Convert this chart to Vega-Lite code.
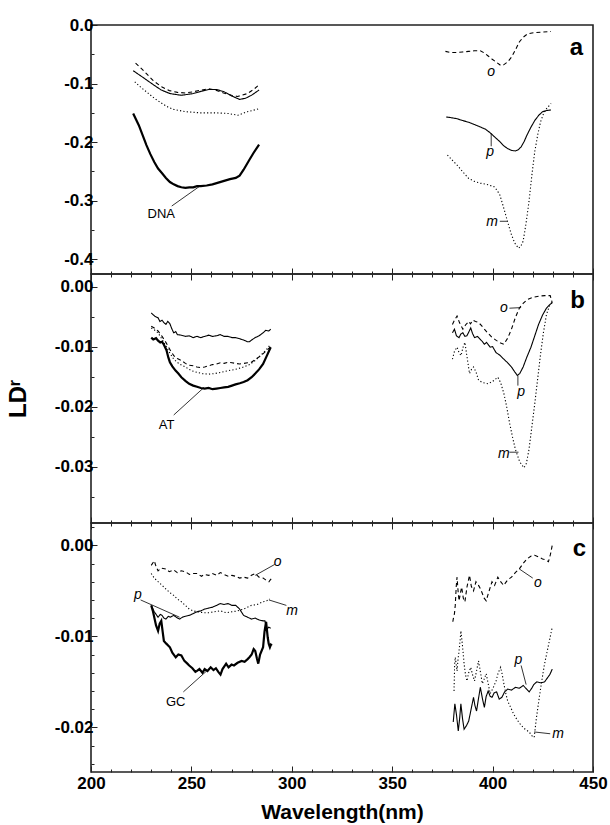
{
"$schema":"https://vega.github.io/schema/vega-lite/v6.json",
"padding":{"left":5,"top":15,"right":0,"bottom":0},
"config":{"font":"Liberation Sans","view":{"stroke":"#222","strokeWidth":1.6},"axis":{"tickColor":"#222","labelColor":"#000","titleColor":"#000"}},
"spacing":0,
"bounds":"flush",
"datasets":{
"curves":[
{"panel":"a","band":"UV","series":"p","nm":221,"LD":-0.078},{"panel":"a","band":"UV","series":"p","nm":225.7,"LD":-0.089},{"panel":"a","band":"UV","series":"p","nm":231.5,"LD":-0.103},{"panel":"a","band":"UV","series":"p","nm":235,"LD":-0.111},{"panel":"a","band":"UV","series":"p","nm":239.3,"LD":-0.117},{"panel":"a","band":"UV","series":"p","nm":245,"LD":-0.12},{"panel":"a","band":"UV","series":"p","nm":250.9,"LD":-0.117},{"panel":"a","band":"UV","series":"p","nm":255,"LD":-0.113},{"panel":"a","band":"UV","series":"p","nm":258.6,"LD":-0.11},{"panel":"a","band":"UV","series":"p","nm":262.5,"LD":-0.11},{"panel":"a","band":"UV","series":"p","nm":266.3,"LD":-0.114},{"panel":"a","band":"UV","series":"p","nm":270,"LD":-0.121},{"panel":"a","band":"UV","series":"p","nm":274,"LD":-0.127},{"panel":"a","band":"UV","series":"p","nm":277,"LD":-0.125},{"panel":"a","band":"UV","series":"p","nm":279.9,"LD":-0.12},{"panel":"a","band":"UV","series":"p","nm":283.7,"LD":-0.111},
{"panel":"a","band":"UV","series":"o","nm":222.2,"LD":-0.065},{"panel":"a","band":"UV","series":"o","nm":225,"LD":-0.074},{"panel":"a","band":"UV","series":"o","nm":227.6,"LD":-0.083},{"panel":"a","band":"UV","series":"o","nm":231,"LD":-0.095},{"panel":"a","band":"UV","series":"o","nm":235.4,"LD":-0.106},{"panel":"a","band":"UV","series":"o","nm":239,"LD":-0.112},{"panel":"a","band":"UV","series":"o","nm":243.1,"LD":-0.115},{"panel":"a","band":"UV","series":"o","nm":247,"LD":-0.116},{"panel":"a","band":"UV","series":"o","nm":250.9,"LD":-0.114},{"panel":"a","band":"UV","series":"o","nm":255,"LD":-0.111},{"panel":"a","band":"UV","series":"o","nm":258.6,"LD":-0.109},{"panel":"a","band":"UV","series":"o","nm":262,"LD":-0.111},{"panel":"a","band":"UV","series":"o","nm":266,"LD":-0.116},{"panel":"a","band":"UV","series":"o","nm":270,"LD":-0.12},{"panel":"a","band":"UV","series":"o","nm":273,"LD":-0.122},{"panel":"a","band":"UV","series":"o","nm":277.9,"LD":-0.117},{"panel":"a","band":"UV","series":"o","nm":281,"LD":-0.11},{"panel":"a","band":"UV","series":"o","nm":283.7,"LD":-0.102},
{"panel":"a","band":"UV","series":"m","nm":221.8,"LD":-0.097},{"panel":"a","band":"UV","series":"m","nm":224.7,"LD":-0.106},{"panel":"a","band":"UV","series":"m","nm":227.6,"LD":-0.114},{"panel":"a","band":"UV","series":"m","nm":231.5,"LD":-0.125},{"panel":"a","band":"UV","series":"m","nm":235.4,"LD":-0.134},{"panel":"a","band":"UV","series":"m","nm":238.3,"LD":-0.14},{"panel":"a","band":"UV","series":"m","nm":241.2,"LD":-0.144},{"panel":"a","band":"UV","series":"m","nm":247,"LD":-0.148},{"panel":"a","band":"UV","series":"m","nm":254.7,"LD":-0.15},{"panel":"a","band":"UV","series":"m","nm":262.5,"LD":-0.15},{"panel":"a","band":"UV","series":"m","nm":268.3,"LD":-0.151},{"panel":"a","band":"UV","series":"m","nm":273.1,"LD":-0.154},{"panel":"a","band":"UV","series":"m","nm":277.9,"LD":-0.148},{"panel":"a","band":"UV","series":"m","nm":283.7,"LD":-0.143},
{"panel":"a","band":"UV","series":"DNA","nm":221,"LD":-0.151},{"panel":"a","band":"UV","series":"DNA","nm":223.8,"LD":-0.171},{"panel":"a","band":"UV","series":"DNA","nm":225.7,"LD":-0.188},{"panel":"a","band":"UV","series":"DNA","nm":227.6,"LD":-0.205},{"panel":"a","band":"UV","series":"DNA","nm":229.5,"LD":-0.22},{"panel":"a","band":"UV","series":"DNA","nm":231.5,"LD":-0.234},{"panel":"a","band":"UV","series":"DNA","nm":233.4,"LD":-0.245},{"panel":"a","band":"UV","series":"DNA","nm":235.4,"LD":-0.253},{"panel":"a","band":"UV","series":"DNA","nm":237.3,"LD":-0.261},{"panel":"a","band":"UV","series":"DNA","nm":239.3,"LD":-0.268},{"panel":"a","band":"UV","series":"DNA","nm":241.2,"LD":-0.272},{"panel":"a","band":"UV","series":"DNA","nm":243.1,"LD":-0.275},{"panel":"a","band":"UV","series":"DNA","nm":245,"LD":-0.277},{"panel":"a","band":"UV","series":"DNA","nm":247,"LD":-0.278},{"panel":"a","band":"UV","series":"DNA","nm":249,"LD":-0.277},{"panel":"a","band":"UV","series":"DNA","nm":250.9,"LD":-0.277},{"panel":"a","band":"UV","series":"DNA","nm":252.8,"LD":-0.275},{"panel":"a","band":"UV","series":"DNA","nm":254.7,"LD":-0.275},{"panel":"a","band":"UV","series":"DNA","nm":257.6,"LD":-0.274},{"panel":"a","band":"UV","series":"DNA","nm":260.5,"LD":-0.272},{"panel":"a","band":"UV","series":"DNA","nm":263.4,"LD":-0.269},{"panel":"a","band":"UV","series":"DNA","nm":266.3,"LD":-0.266},{"panel":"a","band":"UV","series":"DNA","nm":269.2,"LD":-0.263},{"panel":"a","band":"UV","series":"DNA","nm":272.1,"LD":-0.261},{"panel":"a","band":"UV","series":"DNA","nm":274,"LD":-0.257},{"panel":"a","band":"UV","series":"DNA","nm":276,"LD":-0.247},{"panel":"a","band":"UV","series":"DNA","nm":278.9,"LD":-0.23},{"panel":"a","band":"UV","series":"DNA","nm":281,"LD":-0.218},{"panel":"a","band":"UV","series":"DNA","nm":283.7,"LD":-0.204},
{"panel":"a","band":"Vis","series":"o","nm":376.5,"LD":-0.045},{"panel":"a","band":"Vis","series":"o","nm":379,"LD":-0.047},{"panel":"a","band":"Vis","series":"o","nm":382.3,"LD":-0.047},{"panel":"a","band":"Vis","series":"o","nm":385,"LD":-0.046},{"panel":"a","band":"Vis","series":"o","nm":388.1,"LD":-0.045},{"panel":"a","band":"Vis","series":"o","nm":391,"LD":-0.044},{"panel":"a","band":"Vis","series":"o","nm":393.9,"LD":-0.044},{"panel":"a","band":"Vis","series":"o","nm":396,"LD":-0.048},{"panel":"a","band":"Vis","series":"o","nm":397.8,"LD":-0.053},{"panel":"a","band":"Vis","series":"o","nm":400,"LD":-0.059},{"panel":"a","band":"Vis","series":"o","nm":401.7,"LD":-0.063},{"panel":"a","band":"Vis","series":"o","nm":404,"LD":-0.069},{"panel":"a","band":"Vis","series":"o","nm":405.5,"LD":-0.068},{"panel":"a","band":"Vis","series":"o","nm":407.5,"LD":-0.063},{"panel":"a","band":"Vis","series":"o","nm":409.4,"LD":-0.055},{"panel":"a","band":"Vis","series":"o","nm":411.3,"LD":-0.043},{"panel":"a","band":"Vis","series":"o","nm":413.3,"LD":-0.029},{"panel":"a","band":"Vis","series":"o","nm":415.2,"LD":-0.021},{"panel":"a","band":"Vis","series":"o","nm":417.1,"LD":-0.016},{"panel":"a","band":"Vis","series":"o","nm":419,"LD":-0.014},{"panel":"a","band":"Vis","series":"o","nm":421,"LD":-0.013},{"panel":"a","band":"Vis","series":"o","nm":424.9,"LD":-0.012},{"panel":"a","band":"Vis","series":"o","nm":429.1,"LD":-0.011},
{"panel":"a","band":"Vis","series":"p","nm":376.9,"LD":-0.157},{"panel":"a","band":"Vis","series":"p","nm":379,"LD":-0.158},{"panel":"a","band":"Vis","series":"p","nm":382.3,"LD":-0.16},{"panel":"a","band":"Vis","series":"p","nm":385,"LD":-0.163},{"panel":"a","band":"Vis","series":"p","nm":388.1,"LD":-0.166},{"panel":"a","band":"Vis","series":"p","nm":391,"LD":-0.17},{"panel":"a","band":"Vis","series":"p","nm":393.9,"LD":-0.174},{"panel":"a","band":"Vis","series":"p","nm":396.5,"LD":-0.178},{"panel":"a","band":"Vis","series":"p","nm":398.8,"LD":-0.184},{"panel":"a","band":"Vis","series":"p","nm":401,"LD":-0.191},{"panel":"a","band":"Vis","series":"p","nm":403.6,"LD":-0.199},{"panel":"a","band":"Vis","series":"p","nm":405.5,"LD":-0.206},{"panel":"a","band":"Vis","series":"p","nm":407.5,"LD":-0.211},{"panel":"a","band":"Vis","series":"p","nm":409.4,"LD":-0.214},{"panel":"a","band":"Vis","series":"p","nm":411.3,"LD":-0.215},{"panel":"a","band":"Vis","series":"p","nm":412.8,"LD":-0.213},{"panel":"a","band":"Vis","series":"p","nm":414.2,"LD":-0.208},{"panel":"a","band":"Vis","series":"p","nm":415.7,"LD":-0.199},{"panel":"a","band":"Vis","series":"p","nm":417.1,"LD":-0.188},{"panel":"a","band":"Vis","series":"p","nm":419,"LD":-0.175},{"panel":"a","band":"Vis","series":"p","nm":421,"LD":-0.163},{"panel":"a","band":"Vis","series":"p","nm":423,"LD":-0.154},{"panel":"a","band":"Vis","series":"p","nm":424.9,"LD":-0.148},{"panel":"a","band":"Vis","series":"p","nm":427,"LD":-0.146},{"panel":"a","band":"Vis","series":"p","nm":429.1,"LD":-0.145},
{"panel":"a","band":"Vis","series":"m","nm":377.5,"LD":-0.222},{"panel":"a","band":"Vis","series":"m","nm":380,"LD":-0.231},{"panel":"a","band":"Vis","series":"m","nm":382.3,"LD":-0.239},{"panel":"a","band":"Vis","series":"m","nm":385,"LD":-0.25},{"panel":"a","band":"Vis","series":"m","nm":388.1,"LD":-0.262},{"panel":"a","band":"Vis","series":"m","nm":391,"LD":-0.267},{"panel":"a","band":"Vis","series":"m","nm":393.9,"LD":-0.27},{"panel":"a","band":"Vis","series":"m","nm":397,"LD":-0.272},{"panel":"a","band":"Vis","series":"m","nm":400.7,"LD":-0.276},{"panel":"a","band":"Vis","series":"m","nm":402.2,"LD":-0.282},{"panel":"a","band":"Vis","series":"m","nm":403.6,"LD":-0.29},{"panel":"a","band":"Vis","series":"m","nm":405,"LD":-0.306},{"panel":"a","band":"Vis","series":"m","nm":406.5,"LD":-0.324},{"panel":"a","band":"Vis","series":"m","nm":408,"LD":-0.342},{"panel":"a","band":"Vis","series":"m","nm":409.4,"LD":-0.358},{"panel":"a","band":"Vis","series":"m","nm":411,"LD":-0.372},{"panel":"a","band":"Vis","series":"m","nm":412.9,"LD":-0.381},{"panel":"a","band":"Vis","series":"m","nm":414,"LD":-0.378},{"panel":"a","band":"Vis","series":"m","nm":415.2,"LD":-0.369},{"panel":"a","band":"Vis","series":"m","nm":416.6,"LD":-0.34},{"panel":"a","band":"Vis","series":"m","nm":418.1,"LD":-0.302},{"panel":"a","band":"Vis","series":"m","nm":419.5,"LD":-0.258},{"panel":"a","band":"Vis","series":"m","nm":421,"LD":-0.216},{"panel":"a","band":"Vis","series":"m","nm":422.5,"LD":-0.187},{"panel":"a","band":"Vis","series":"m","nm":423.9,"LD":-0.165},{"panel":"a","band":"Vis","series":"m","nm":425.3,"LD":-0.152},{"panel":"a","band":"Vis","series":"m","nm":426.8,"LD":-0.143},{"panel":"a","band":"Vis","series":"m","nm":429.1,"LD":-0.134},

{"panel":"b","band":"UV","series":"p","nm":230,"LD":-0.0044},{"panel":"b","band":"UV","series":"p","nm":231,"LD":-0.0047},{"panel":"b","band":"UV","series":"p","nm":232,"LD":-0.005},{"panel":"b","band":"UV","series":"p","nm":233.4,"LD":-0.0052},{"panel":"b","band":"UV","series":"p","nm":234.3,"LD":-0.0058},{"panel":"b","band":"UV","series":"p","nm":235.4,"LD":-0.0056},{"panel":"b","band":"UV","series":"p","nm":236.3,"LD":-0.006},{"panel":"b","band":"UV","series":"p","nm":237.3,"LD":-0.0063},{"panel":"b","band":"UV","series":"p","nm":238.2,"LD":-0.0058},{"panel":"b","band":"UV","series":"p","nm":239.3,"LD":-0.0062},{"panel":"b","band":"UV","series":"p","nm":240.2,"LD":-0.007},{"panel":"b","band":"UV","series":"p","nm":241.2,"LD":-0.0077},{"panel":"b","band":"UV","series":"p","nm":242.2,"LD":-0.0075},{"panel":"b","band":"UV","series":"p","nm":243,"LD":-0.008},{"panel":"b","band":"UV","series":"p","nm":245,"LD":-0.0081},{"panel":"b","band":"UV","series":"p","nm":247,"LD":-0.0083},{"panel":"b","band":"UV","series":"p","nm":248.9,"LD":-0.0082},{"panel":"b","band":"UV","series":"p","nm":250.9,"LD":-0.0085},{"panel":"b","band":"UV","series":"p","nm":252.8,"LD":-0.0083},{"panel":"b","band":"UV","series":"p","nm":254.7,"LD":-0.0085},{"panel":"b","band":"UV","series":"p","nm":256.6,"LD":-0.0083},{"panel":"b","band":"UV","series":"p","nm":258.6,"LD":-0.0081},{"panel":"b","band":"UV","series":"p","nm":260.5,"LD":-0.0083},{"panel":"b","band":"UV","series":"p","nm":262.5,"LD":-0.0082},{"panel":"b","band":"UV","series":"p","nm":264.4,"LD":-0.008},{"panel":"b","band":"UV","series":"p","nm":266.3,"LD":-0.0083},{"panel":"b","band":"UV","series":"p","nm":268.3,"LD":-0.0083},{"panel":"b","band":"UV","series":"p","nm":270.2,"LD":-0.0085},{"panel":"b","band":"UV","series":"p","nm":272,"LD":-0.0085},{"panel":"b","band":"UV","series":"p","nm":274.1,"LD":-0.0087},{"panel":"b","band":"UV","series":"p","nm":276,"LD":-0.0089},{"panel":"b","band":"UV","series":"p","nm":278,"LD":-0.0092},{"panel":"b","band":"UV","series":"p","nm":278.9,"LD":-0.0092},{"panel":"b","band":"UV","series":"p","nm":280,"LD":-0.0089},{"panel":"b","band":"UV","series":"p","nm":281.8,"LD":-0.0085},{"panel":"b","band":"UV","series":"p","nm":283.7,"LD":-0.0082},{"panel":"b","band":"UV","series":"p","nm":285.7,"LD":-0.0077},{"panel":"b","band":"UV","series":"p","nm":287,"LD":-0.0073},{"panel":"b","band":"UV","series":"p","nm":288.5,"LD":-0.0074},{"panel":"b","band":"UV","series":"p","nm":289.5,"LD":-0.0071},
{"panel":"b","band":"UV","series":"AT","nm":230,"LD":-0.0085},{"panel":"b","band":"UV","series":"AT","nm":231,"LD":-0.0088},{"panel":"b","band":"UV","series":"AT","nm":232.4,"LD":-0.0086},{"panel":"b","band":"UV","series":"AT","nm":233.4,"LD":-0.009},{"panel":"b","band":"UV","series":"AT","nm":234.5,"LD":-0.0093},{"panel":"b","band":"UV","series":"AT","nm":235.4,"LD":-0.0092},{"panel":"b","band":"UV","series":"AT","nm":236.3,"LD":-0.0097},{"panel":"b","band":"UV","series":"AT","nm":237.6,"LD":-0.0106},{"panel":"b","band":"UV","series":"AT","nm":238.5,"LD":-0.0118},{"panel":"b","band":"UV","series":"AT","nm":239.3,"LD":-0.0126},{"panel":"b","band":"UV","series":"AT","nm":240.5,"LD":-0.0133},{"panel":"b","band":"UV","series":"AT","nm":242.1,"LD":-0.014},{"panel":"b","band":"UV","series":"AT","nm":243.5,"LD":-0.0145},{"panel":"b","band":"UV","series":"AT","nm":245,"LD":-0.0151},{"panel":"b","band":"UV","series":"AT","nm":247,"LD":-0.0157},{"panel":"b","band":"UV","series":"AT","nm":248.9,"LD":-0.0162},{"panel":"b","band":"UV","series":"AT","nm":250.9,"LD":-0.0165},{"panel":"b","band":"UV","series":"AT","nm":252.8,"LD":-0.0167},{"panel":"b","band":"UV","series":"AT","nm":254.7,"LD":-0.0169},{"panel":"b","band":"UV","series":"AT","nm":256.6,"LD":-0.017},{"panel":"b","band":"UV","series":"AT","nm":258.6,"LD":-0.0169},{"panel":"b","band":"UV","series":"AT","nm":260.5,"LD":-0.0171},{"panel":"b","band":"UV","series":"AT","nm":262.5,"LD":-0.017},{"panel":"b","band":"UV","series":"AT","nm":264.4,"LD":-0.0169},{"panel":"b","band":"UV","series":"AT","nm":266.3,"LD":-0.0168},{"panel":"b","band":"UV","series":"AT","nm":268.3,"LD":-0.0167},{"panel":"b","band":"UV","series":"AT","nm":270.2,"LD":-0.0165},{"panel":"b","band":"UV","series":"AT","nm":272,"LD":-0.0163},{"panel":"b","band":"UV","series":"AT","nm":274.1,"LD":-0.0161},{"panel":"b","band":"UV","series":"AT","nm":276,"LD":-0.0159},{"panel":"b","band":"UV","series":"AT","nm":278,"LD":-0.0156},{"panel":"b","band":"UV","series":"AT","nm":280,"LD":-0.0151},{"panel":"b","band":"UV","series":"AT","nm":281.8,"LD":-0.0145},{"panel":"b","band":"UV","series":"AT","nm":283.7,"LD":-0.0138},{"panel":"b","band":"UV","series":"AT","nm":285.7,"LD":-0.0129},{"panel":"b","band":"UV","series":"AT","nm":287.6,"LD":-0.0115},{"panel":"b","band":"UV","series":"AT","nm":289.5,"LD":-0.0101},
{"panel":"b","band":"UV","series":"o","nm":230,"LD":-0.0066},{"panel":"b","band":"UV","series":"o","nm":231.5,"LD":-0.0069},{"panel":"b","band":"UV","series":"o","nm":233.4,"LD":-0.0074},{"panel":"b","band":"UV","series":"o","nm":235.4,"LD":-0.0083},{"panel":"b","band":"UV","series":"o","nm":237.3,"LD":-0.0093},{"panel":"b","band":"UV","series":"o","nm":239.3,"LD":-0.0105},{"panel":"b","band":"UV","series":"o","nm":241.2,"LD":-0.0115},{"panel":"b","band":"UV","series":"o","nm":243,"LD":-0.012},{"panel":"b","band":"UV","series":"o","nm":245,"LD":-0.0123},{"panel":"b","band":"UV","series":"o","nm":247,"LD":-0.0128},{"panel":"b","band":"UV","series":"o","nm":248.9,"LD":-0.0131},{"panel":"b","band":"UV","series":"o","nm":250.9,"LD":-0.0132},{"panel":"b","band":"UV","series":"o","nm":252.8,"LD":-0.0134},{"panel":"b","band":"UV","series":"o","nm":254.7,"LD":-0.0135},{"panel":"b","band":"UV","series":"o","nm":256.6,"LD":-0.0134},{"panel":"b","band":"UV","series":"o","nm":258.6,"LD":-0.0132},{"panel":"b","band":"UV","series":"o","nm":260.5,"LD":-0.013},{"panel":"b","band":"UV","series":"o","nm":262.5,"LD":-0.0129},{"panel":"b","band":"UV","series":"o","nm":264.4,"LD":-0.0127},{"panel":"b","band":"UV","series":"o","nm":266.3,"LD":-0.0128},{"panel":"b","band":"UV","series":"o","nm":268.3,"LD":-0.0126},{"panel":"b","band":"UV","series":"o","nm":270.2,"LD":-0.0127},{"panel":"b","band":"UV","series":"o","nm":272,"LD":-0.0128},{"panel":"b","band":"UV","series":"o","nm":274.1,"LD":-0.0129},{"panel":"b","band":"UV","series":"o","nm":276,"LD":-0.0128},{"panel":"b","band":"UV","series":"o","nm":278,"LD":-0.0127},{"panel":"b","band":"UV","series":"o","nm":279.9,"LD":-0.0126},{"panel":"b","band":"UV","series":"o","nm":282,"LD":-0.0121},{"panel":"b","band":"UV","series":"o","nm":284.7,"LD":-0.0115},{"panel":"b","band":"UV","series":"o","nm":287,"LD":-0.0108},{"panel":"b","band":"UV","series":"o","nm":289.5,"LD":-0.01},
{"panel":"b","band":"UV","series":"m","nm":230,"LD":-0.0069},{"panel":"b","band":"UV","series":"m","nm":231.5,"LD":-0.0072},{"panel":"b","band":"UV","series":"m","nm":233.4,"LD":-0.0077},{"panel":"b","band":"UV","series":"m","nm":235.4,"LD":-0.0088},{"panel":"b","band":"UV","series":"m","nm":237.3,"LD":-0.0099},{"panel":"b","band":"UV","series":"m","nm":239.3,"LD":-0.0111},{"panel":"b","band":"UV","series":"m","nm":241.2,"LD":-0.0121},{"panel":"b","band":"UV","series":"m","nm":244,"LD":-0.0129},{"panel":"b","band":"UV","series":"m","nm":247,"LD":-0.0134},{"panel":"b","band":"UV","series":"m","nm":250,"LD":-0.014},{"panel":"b","band":"UV","series":"m","nm":252.8,"LD":-0.0143},{"panel":"b","band":"UV","series":"m","nm":255.5,"LD":-0.0145},{"panel":"b","band":"UV","series":"m","nm":258.6,"LD":-0.0146},{"panel":"b","band":"UV","series":"m","nm":261.5,"LD":-0.0145},{"panel":"b","band":"UV","series":"m","nm":264.4,"LD":-0.0143},{"panel":"b","band":"UV","series":"m","nm":267,"LD":-0.0141},{"panel":"b","band":"UV","series":"m","nm":270.2,"LD":-0.0139},{"panel":"b","band":"UV","series":"m","nm":273,"LD":-0.0137},{"panel":"b","band":"UV","series":"m","nm":276,"LD":-0.0134},{"panel":"b","band":"UV","series":"m","nm":279,"LD":-0.013},{"panel":"b","band":"UV","series":"m","nm":281.8,"LD":-0.0123},{"panel":"b","band":"UV","series":"m","nm":284.7,"LD":-0.0114},{"panel":"b","band":"UV","series":"m","nm":287.6,"LD":-0.0104},{"panel":"b","band":"UV","series":"m","nm":289.5,"LD":-0.0096},
{"panel":"b","band":"Vis","series":"o","nm":380,"LD":-0.0063},{"panel":"b","band":"Vis","series":"o","nm":381,"LD":-0.0056},{"panel":"b","band":"Vis","series":"o","nm":382.3,"LD":-0.0049},{"panel":"b","band":"Vis","series":"o","nm":383.5,"LD":-0.006},{"panel":"b","band":"Vis","series":"o","nm":385.2,"LD":-0.0071},{"panel":"b","band":"Vis","series":"o","nm":386.5,"LD":-0.0064},{"panel":"b","band":"Vis","series":"o","nm":388.1,"LD":-0.0058},{"panel":"b","band":"Vis","series":"o","nm":389,"LD":-0.0062},{"panel":"b","band":"Vis","series":"o","nm":390.1,"LD":-0.0056},{"panel":"b","band":"Vis","series":"o","nm":391.5,"LD":-0.0058},{"panel":"b","band":"Vis","series":"o","nm":393,"LD":-0.006},{"panel":"b","band":"Vis","series":"o","nm":394.5,"LD":-0.0065},{"panel":"b","band":"Vis","series":"o","nm":395.9,"LD":-0.0071},{"panel":"b","band":"Vis","series":"o","nm":397.8,"LD":-0.0078},{"panel":"b","band":"Vis","series":"o","nm":399.8,"LD":-0.0085},{"panel":"b","band":"Vis","series":"o","nm":402,"LD":-0.009},{"panel":"b","band":"Vis","series":"o","nm":404,"LD":-0.0094},{"panel":"b","band":"Vis","series":"o","nm":405.6,"LD":-0.0096},{"panel":"b","band":"Vis","series":"o","nm":407.5,"LD":-0.0086},{"panel":"b","band":"Vis","series":"o","nm":409.4,"LD":-0.0071},{"panel":"b","band":"Vis","series":"o","nm":411.3,"LD":-0.0052},{"panel":"b","band":"Vis","series":"o","nm":413.3,"LD":-0.0036},{"panel":"b","band":"Vis","series":"o","nm":415.2,"LD":-0.0028},{"panel":"b","band":"Vis","series":"o","nm":417.1,"LD":-0.0022},{"panel":"b","band":"Vis","series":"o","nm":420,"LD":-0.0018},{"panel":"b","band":"Vis","series":"o","nm":422.9,"LD":-0.0016},{"panel":"b","band":"Vis","series":"o","nm":426,"LD":-0.0015},{"panel":"b","band":"Vis","series":"o","nm":428.7,"LD":-0.0015},{"panel":"b","band":"Vis","series":"o","nm":429.7,"LD":-0.0027},
{"panel":"b","band":"Vis","series":"p","nm":380,"LD":-0.0077},{"panel":"b","band":"Vis","series":"p","nm":381,"LD":-0.0071},{"panel":"b","band":"Vis","series":"p","nm":382,"LD":-0.0082},{"panel":"b","band":"Vis","series":"p","nm":383.3,"LD":-0.0085},{"panel":"b","band":"Vis","series":"p","nm":384.2,"LD":-0.0079},{"panel":"b","band":"Vis","series":"p","nm":385.2,"LD":-0.0077},{"panel":"b","band":"Vis","series":"p","nm":386.2,"LD":-0.0083},{"panel":"b","band":"Vis","series":"p","nm":387.2,"LD":-0.0082},{"panel":"b","band":"Vis","series":"p","nm":388.1,"LD":-0.0076},{"panel":"b","band":"Vis","series":"p","nm":389.1,"LD":-0.0069},{"panel":"b","band":"Vis","series":"p","nm":390,"LD":-0.0078},{"panel":"b","band":"Vis","series":"p","nm":391,"LD":-0.0085},{"panel":"b","band":"Vis","series":"p","nm":392.5,"LD":-0.0083},{"panel":"b","band":"Vis","series":"p","nm":393.9,"LD":-0.0088},{"panel":"b","band":"Vis","series":"p","nm":395,"LD":-0.0092},{"panel":"b","band":"Vis","series":"p","nm":395.9,"LD":-0.0096},{"panel":"b","band":"Vis","series":"p","nm":397,"LD":-0.0093},{"panel":"b","band":"Vis","series":"p","nm":398.8,"LD":-0.0101},{"panel":"b","band":"Vis","series":"p","nm":400,"LD":-0.01},{"panel":"b","band":"Vis","series":"p","nm":401.7,"LD":-0.011},{"panel":"b","band":"Vis","series":"p","nm":403.5,"LD":-0.0114},{"panel":"b","band":"Vis","series":"p","nm":405.6,"LD":-0.0121},{"panel":"b","band":"Vis","series":"p","nm":407.5,"LD":-0.0127},{"panel":"b","band":"Vis","series":"p","nm":409.4,"LD":-0.0134},{"panel":"b","band":"Vis","series":"p","nm":411,"LD":-0.0142},{"panel":"b","band":"Vis","series":"p","nm":412.3,"LD":-0.0148},{"panel":"b","band":"Vis","series":"p","nm":413.5,"LD":-0.0145},{"panel":"b","band":"Vis","series":"p","nm":415.2,"LD":-0.0134},{"panel":"b","band":"Vis","series":"p","nm":417,"LD":-0.0118},{"panel":"b","band":"Vis","series":"p","nm":419.1,"LD":-0.0101},{"panel":"b","band":"Vis","series":"p","nm":421,"LD":-0.0082},{"panel":"b","band":"Vis","series":"p","nm":422.9,"LD":-0.0063},{"panel":"b","band":"Vis","series":"p","nm":424.8,"LD":-0.0048},{"panel":"b","band":"Vis","series":"p","nm":426.8,"LD":-0.0036},{"panel":"b","band":"Vis","series":"p","nm":428.5,"LD":-0.003},{"panel":"b","band":"Vis","series":"p","nm":429.7,"LD":-0.0027},
{"panel":"b","band":"Vis","series":"m","nm":380,"LD":-0.0121},{"panel":"b","band":"Vis","series":"m","nm":381,"LD":-0.0108},{"panel":"b","band":"Vis","series":"m","nm":382.3,"LD":-0.0101},{"panel":"b","band":"Vis","series":"m","nm":383.3,"LD":-0.011},{"panel":"b","band":"Vis","series":"m","nm":384.3,"LD":-0.0115},{"panel":"b","band":"Vis","series":"m","nm":385.2,"LD":-0.0102},{"panel":"b","band":"Vis","series":"m","nm":386.2,"LD":-0.0093},{"panel":"b","band":"Vis","series":"m","nm":387.3,"LD":-0.0118},{"panel":"b","band":"Vis","series":"m","nm":388.5,"LD":-0.0145},{"panel":"b","band":"Vis","series":"m","nm":389.5,"LD":-0.0138},{"panel":"b","band":"Vis","series":"m","nm":390.5,"LD":-0.0134},{"panel":"b","band":"Vis","series":"m","nm":391.7,"LD":-0.0142},{"panel":"b","band":"Vis","series":"m","nm":393,"LD":-0.0156},{"panel":"b","band":"Vis","series":"m","nm":395,"LD":-0.016},{"panel":"b","band":"Vis","series":"m","nm":397.8,"LD":-0.0162},{"panel":"b","band":"Vis","series":"m","nm":400,"LD":-0.0158},{"panel":"b","band":"Vis","series":"m","nm":402.6,"LD":-0.0151},{"panel":"b","band":"Vis","series":"m","nm":404,"LD":-0.016},{"panel":"b","band":"Vis","series":"m","nm":405.6,"LD":-0.0178},{"panel":"b","band":"Vis","series":"m","nm":407,"LD":-0.02},{"panel":"b","band":"Vis","series":"m","nm":408.5,"LD":-0.0228},{"panel":"b","band":"Vis","series":"m","nm":410,"LD":-0.0252},{"panel":"b","band":"Vis","series":"m","nm":411.4,"LD":-0.0272},{"panel":"b","band":"Vis","series":"m","nm":413.5,"LD":-0.0292},{"panel":"b","band":"Vis","series":"m","nm":415.6,"LD":-0.0302},{"panel":"b","band":"Vis","series":"m","nm":416.8,"LD":-0.0295},{"panel":"b","band":"Vis","series":"m","nm":418.1,"LD":-0.0272},{"panel":"b","band":"Vis","series":"m","nm":419.5,"LD":-0.0235},{"panel":"b","band":"Vis","series":"m","nm":421,"LD":-0.0195},{"panel":"b","band":"Vis","series":"m","nm":422.5,"LD":-0.0152},{"panel":"b","band":"Vis","series":"m","nm":423.9,"LD":-0.0112},{"panel":"b","band":"Vis","series":"m","nm":425.3,"LD":-0.0077},{"panel":"b","band":"Vis","series":"m","nm":426.8,"LD":-0.0047},{"panel":"b","band":"Vis","series":"m","nm":428.2,"LD":-0.0033},{"panel":"b","band":"Vis","series":"m","nm":429.7,"LD":-0.0025},

{"panel":"c","band":"UV","series":"o","nm":230,"LD":-0.0022},{"panel":"c","band":"UV","series":"o","nm":231.5,"LD":-0.0017},{"panel":"c","band":"UV","series":"o","nm":232.5,"LD":-0.0024},{"panel":"c","band":"UV","series":"o","nm":233.4,"LD":-0.0028},{"panel":"c","band":"UV","series":"o","nm":235,"LD":-0.0025},{"panel":"c","band":"UV","series":"o","nm":237.3,"LD":-0.0026},{"panel":"c","band":"UV","series":"o","nm":239,"LD":-0.0029},{"panel":"c","band":"UV","series":"o","nm":241.2,"LD":-0.0027},{"panel":"c","band":"UV","series":"o","nm":243,"LD":-0.003},{"panel":"c","band":"UV","series":"o","nm":245,"LD":-0.0028},{"panel":"c","band":"UV","series":"o","nm":247,"LD":-0.0029},{"panel":"c","band":"UV","series":"o","nm":249,"LD":-0.0032},{"panel":"c","band":"UV","series":"o","nm":250.9,"LD":-0.0031},{"panel":"c","band":"UV","series":"o","nm":252.8,"LD":-0.0031},{"panel":"c","band":"UV","series":"o","nm":255,"LD":-0.0034},{"panel":"c","band":"UV","series":"o","nm":256.6,"LD":-0.0032},{"panel":"c","band":"UV","series":"o","nm":258.6,"LD":-0.0033},{"panel":"c","band":"UV","series":"o","nm":260.5,"LD":-0.0031},{"panel":"c","band":"UV","series":"o","nm":262.5,"LD":-0.0033},{"panel":"c","band":"UV","series":"o","nm":264.4,"LD":-0.003},{"panel":"c","band":"UV","series":"o","nm":266.3,"LD":-0.0032},{"panel":"c","band":"UV","series":"o","nm":268.3,"LD":-0.0034},{"panel":"c","band":"UV","series":"o","nm":270.2,"LD":-0.0033},{"panel":"c","band":"UV","series":"o","nm":272,"LD":-0.0034},{"panel":"c","band":"UV","series":"o","nm":274,"LD":-0.0036},{"panel":"c","band":"UV","series":"o","nm":276,"LD":-0.0035},{"panel":"c","band":"UV","series":"o","nm":278,"LD":-0.0036},{"panel":"c","band":"UV","series":"o","nm":279.9,"LD":-0.0033},{"panel":"c","band":"UV","series":"o","nm":281.8,"LD":-0.0031},{"panel":"c","band":"UV","series":"o","nm":283.7,"LD":-0.0035},{"panel":"c","band":"UV","series":"o","nm":285.7,"LD":-0.0036},{"panel":"c","band":"UV","series":"o","nm":287,"LD":-0.0038},{"panel":"c","band":"UV","series":"o","nm":288.6,"LD":-0.004},{"panel":"c","band":"UV","series":"o","nm":289.3,"LD":-0.0038},{"panel":"c","band":"UV","series":"o","nm":290.1,"LD":-0.0036},
{"panel":"c","band":"UV","series":"m","nm":230,"LD":-0.0031},{"panel":"c","band":"UV","series":"m","nm":231.5,"LD":-0.0036},{"panel":"c","band":"UV","series":"m","nm":233.4,"LD":-0.004},{"panel":"c","band":"UV","series":"m","nm":235.4,"LD":-0.0044},{"panel":"c","band":"UV","series":"m","nm":237.3,"LD":-0.0048},{"panel":"c","band":"UV","series":"m","nm":239.3,"LD":-0.0052},{"panel":"c","band":"UV","series":"m","nm":241.2,"LD":-0.0055},{"panel":"c","band":"UV","series":"m","nm":243,"LD":-0.0059},{"panel":"c","band":"UV","series":"m","nm":245,"LD":-0.0062},{"panel":"c","band":"UV","series":"m","nm":247,"LD":-0.0066},{"panel":"c","band":"UV","series":"m","nm":248.9,"LD":-0.007},{"panel":"c","band":"UV","series":"m","nm":250.9,"LD":-0.0072},{"panel":"c","band":"UV","series":"m","nm":252.8,"LD":-0.0073},{"panel":"c","band":"UV","series":"m","nm":255.7,"LD":-0.0074},{"panel":"c","band":"UV","series":"m","nm":258.6,"LD":-0.0074},{"panel":"c","band":"UV","series":"m","nm":261.5,"LD":-0.0073},{"panel":"c","band":"UV","series":"m","nm":264.4,"LD":-0.0072},{"panel":"c","band":"UV","series":"m","nm":267.3,"LD":-0.0074},{"panel":"c","band":"UV","series":"m","nm":270.2,"LD":-0.0073},{"panel":"c","band":"UV","series":"m","nm":273,"LD":-0.0072},{"panel":"c","band":"UV","series":"m","nm":276,"LD":-0.007},{"panel":"c","band":"UV","series":"m","nm":279.9,"LD":-0.0066},{"panel":"c","band":"UV","series":"m","nm":282.8,"LD":-0.0065},{"panel":"c","band":"UV","series":"m","nm":285.7,"LD":-0.0062},{"panel":"c","band":"UV","series":"m","nm":287.5,"LD":-0.0061},{"panel":"c","band":"UV","series":"m","nm":289.1,"LD":-0.0059},
{"panel":"c","band":"UV","series":"p","nm":230,"LD":-0.0066},{"panel":"c","band":"UV","series":"p","nm":231.5,"LD":-0.0073},{"panel":"c","band":"UV","series":"p","nm":233.4,"LD":-0.0079},{"panel":"c","band":"UV","series":"p","nm":234.5,"LD":-0.0076},{"panel":"c","band":"UV","series":"p","nm":235.4,"LD":-0.0077},{"panel":"c","band":"UV","series":"p","nm":236.3,"LD":-0.008},{"panel":"c","band":"UV","series":"p","nm":237.3,"LD":-0.0081},{"panel":"c","band":"UV","series":"p","nm":238.5,"LD":-0.0078},{"panel":"c","band":"UV","series":"p","nm":239.5,"LD":-0.0079},{"panel":"c","band":"UV","series":"p","nm":241.2,"LD":-0.0077},{"panel":"c","band":"UV","series":"p","nm":242.5,"LD":-0.0079},{"panel":"c","band":"UV","series":"p","nm":244.1,"LD":-0.0081},{"panel":"c","band":"UV","series":"p","nm":245.5,"LD":-0.0079},{"panel":"c","band":"UV","series":"p","nm":247,"LD":-0.0078},{"panel":"c","band":"UV","series":"p","nm":248.9,"LD":-0.0077},{"panel":"c","band":"UV","series":"p","nm":250.9,"LD":-0.0075},{"panel":"c","band":"UV","series":"p","nm":252.8,"LD":-0.0073},{"panel":"c","band":"UV","series":"p","nm":254.7,"LD":-0.0072},{"panel":"c","band":"UV","series":"p","nm":256.6,"LD":-0.007},{"panel":"c","band":"UV","series":"p","nm":258.6,"LD":-0.0069},{"panel":"c","band":"UV","series":"p","nm":260.5,"LD":-0.0068},{"panel":"c","band":"UV","series":"p","nm":262.5,"LD":-0.0066},{"panel":"c","band":"UV","series":"p","nm":264.4,"LD":-0.0064},{"panel":"c","band":"UV","series":"p","nm":266.3,"LD":-0.0065},{"panel":"c","band":"UV","series":"p","nm":268.3,"LD":-0.0064},{"panel":"c","band":"UV","series":"p","nm":270.2,"LD":-0.0066},{"panel":"c","band":"UV","series":"p","nm":272.1,"LD":-0.0066},{"panel":"c","band":"UV","series":"p","nm":274,"LD":-0.007},{"panel":"c","band":"UV","series":"p","nm":276,"LD":-0.0077},{"panel":"c","band":"UV","series":"p","nm":278,"LD":-0.0079},{"panel":"c","band":"UV","series":"p","nm":279.9,"LD":-0.0081},{"panel":"c","band":"UV","series":"p","nm":281.8,"LD":-0.008},{"panel":"c","band":"UV","series":"p","nm":283.7,"LD":-0.0082},{"panel":"c","band":"UV","series":"p","nm":285.7,"LD":-0.0083},{"panel":"c","band":"UV","series":"p","nm":286.6,"LD":-0.0083},{"panel":"c","band":"UV","series":"p","nm":287.6,"LD":-0.0092},{"panel":"c","band":"UV","series":"p","nm":288.5,"LD":-0.009},{"panel":"c","band":"UV","series":"p","nm":289.5,"LD":-0.0091},
{"panel":"c","band":"UV","series":"GC","nm":230,"LD":-0.0066},{"panel":"c","band":"UV","series":"GC","nm":230.8,"LD":-0.0072},{"panel":"c","band":"UV","series":"GC","nm":231.5,"LD":-0.0079},{"panel":"c","band":"UV","series":"GC","nm":232.4,"LD":-0.0088},{"panel":"c","band":"UV","series":"GC","nm":233.4,"LD":-0.0094},{"panel":"c","band":"UV","series":"GC","nm":234.2,"LD":-0.0086},{"panel":"c","band":"UV","series":"GC","nm":235,"LD":-0.0083},{"panel":"c","band":"UV","series":"GC","nm":235.7,"LD":-0.0095},{"panel":"c","band":"UV","series":"GC","nm":236.3,"LD":-0.0105},{"panel":"c","band":"UV","series":"GC","nm":237.5,"LD":-0.0108},{"panel":"c","band":"UV","series":"GC","nm":239.3,"LD":-0.0112},{"panel":"c","band":"UV","series":"GC","nm":240.5,"LD":-0.0118},{"panel":"c","band":"UV","series":"GC","nm":242.2,"LD":-0.0123},{"panel":"c","band":"UV","series":"GC","nm":243.5,"LD":-0.012},{"panel":"c","band":"UV","series":"GC","nm":245,"LD":-0.0121},{"panel":"c","band":"UV","series":"GC","nm":246.5,"LD":-0.0127},{"panel":"c","band":"UV","series":"GC","nm":248,"LD":-0.013},{"panel":"c","band":"UV","series":"GC","nm":248.9,"LD":-0.0132},{"panel":"c","band":"UV","series":"GC","nm":250.5,"LD":-0.0135},{"panel":"c","band":"UV","series":"GC","nm":252,"LD":-0.0139},{"panel":"c","band":"UV","series":"GC","nm":252.8,"LD":-0.0138},{"panel":"c","band":"UV","series":"GC","nm":254,"LD":-0.0136},{"panel":"c","band":"UV","series":"GC","nm":255.5,"LD":-0.014},{"panel":"c","band":"UV","series":"GC","nm":256.6,"LD":-0.0136},{"panel":"c","band":"UV","series":"GC","nm":258,"LD":-0.0138},{"panel":"c","band":"UV","series":"GC","nm":259.6,"LD":-0.0134},{"panel":"c","band":"UV","series":"GC","nm":261,"LD":-0.0137},{"panel":"c","band":"UV","series":"GC","nm":262.2,"LD":-0.0135},{"panel":"c","band":"UV","series":"GC","nm":263.4,"LD":-0.0139},{"panel":"c","band":"UV","series":"GC","nm":264.5,"LD":-0.0142},{"panel":"c","band":"UV","series":"GC","nm":265.5,"LD":-0.0136},{"panel":"c","band":"UV","series":"GC","nm":267.3,"LD":-0.013},{"panel":"c","band":"UV","series":"GC","nm":268.5,"LD":-0.0134},{"panel":"c","band":"UV","series":"GC","nm":270,"LD":-0.0131},{"panel":"c","band":"UV","series":"GC","nm":271.2,"LD":-0.0132},{"panel":"c","band":"UV","series":"GC","nm":273,"LD":-0.0129},{"panel":"c","band":"UV","series":"GC","nm":275,"LD":-0.0127},{"panel":"c","band":"UV","series":"GC","nm":276.5,"LD":-0.0128},{"panel":"c","band":"UV","series":"GC","nm":278,"LD":-0.0125},{"panel":"c","band":"UV","series":"GC","nm":278.9,"LD":-0.0123},{"panel":"c","band":"UV","series":"GC","nm":280,"LD":-0.012},{"panel":"c","band":"UV","series":"GC","nm":281,"LD":-0.0114},{"panel":"c","band":"UV","series":"GC","nm":281.8,"LD":-0.0116},{"panel":"c","band":"UV","series":"GC","nm":282.6,"LD":-0.0124},{"panel":"c","band":"UV","series":"GC","nm":283.3,"LD":-0.013},{"panel":"c","band":"UV","series":"GC","nm":284.2,"LD":-0.012},{"panel":"c","band":"UV","series":"GC","nm":285.7,"LD":-0.0112},{"panel":"c","band":"UV","series":"GC","nm":286.4,"LD":-0.0095},{"panel":"c","band":"UV","series":"GC","nm":287.2,"LD":-0.0084},{"panel":"c","band":"UV","series":"GC","nm":288,"LD":-0.0101},{"panel":"c","band":"UV","series":"GC","nm":288.5,"LD":-0.0108},{"panel":"c","band":"UV","series":"GC","nm":289.1,"LD":-0.0112},{"panel":"c","band":"UV","series":"GC","nm":289.6,"LD":-0.0109},{"panel":"c","band":"UV","series":"GC","nm":290.1,"LD":-0.011},
{"panel":"c","band":"Vis","series":"o","nm":380.2,"LD":-0.0084},{"panel":"c","band":"Vis","series":"o","nm":380.4,"LD":-0.0081},{"panel":"c","band":"Vis","series":"o","nm":381,"LD":-0.0075},{"panel":"c","band":"Vis","series":"o","nm":381.4,"LD":-0.0066},{"panel":"c","band":"Vis","series":"o","nm":381.9,"LD":-0.0045},{"panel":"c","band":"Vis","series":"o","nm":382.3,"LD":-0.0035},{"panel":"c","band":"Vis","series":"o","nm":382.8,"LD":-0.005},{"panel":"c","band":"Vis","series":"o","nm":383.3,"LD":-0.0061},{"panel":"c","band":"Vis","series":"o","nm":384,"LD":-0.0052},{"panel":"c","band":"Vis","series":"o","nm":384.6,"LD":-0.0046},{"panel":"c","band":"Vis","series":"o","nm":385.4,"LD":-0.0058},{"panel":"c","band":"Vis","series":"o","nm":386.2,"LD":-0.0062},{"panel":"c","band":"Vis","series":"o","nm":387.3,"LD":-0.0045},{"panel":"c","band":"Vis","series":"o","nm":388.5,"LD":-0.0033},{"panel":"c","band":"Vis","series":"o","nm":389.4,"LD":-0.0045},{"panel":"c","band":"Vis","series":"o","nm":390.5,"LD":-0.005},{"panel":"c","band":"Vis","series":"o","nm":391.7,"LD":-0.004},{"panel":"c","band":"Vis","series":"o","nm":393,"LD":-0.0044},{"panel":"c","band":"Vis","series":"o","nm":394,"LD":-0.0048},{"panel":"c","band":"Vis","series":"o","nm":394.9,"LD":-0.0053},{"panel":"c","band":"Vis","series":"o","nm":395.8,"LD":-0.0058},{"panel":"c","band":"Vis","series":"o","nm":396.8,"LD":-0.0061},{"panel":"c","band":"Vis","series":"o","nm":398,"LD":-0.0052},{"panel":"c","band":"Vis","series":"o","nm":399.7,"LD":-0.004},{"panel":"c","band":"Vis","series":"o","nm":401,"LD":-0.0044},{"panel":"c","band":"Vis","series":"o","nm":402.6,"LD":-0.0035},{"panel":"c","band":"Vis","series":"o","nm":404,"LD":-0.004},{"panel":"c","band":"Vis","series":"o","nm":405.5,"LD":-0.0044},{"panel":"c","band":"Vis","series":"o","nm":407.5,"LD":-0.0038},{"panel":"c","band":"Vis","series":"o","nm":409.4,"LD":-0.0035},{"panel":"c","band":"Vis","series":"o","nm":411.3,"LD":-0.003},{"panel":"c","band":"Vis","series":"o","nm":413.3,"LD":-0.0026},{"panel":"c","band":"Vis","series":"o","nm":415.2,"LD":-0.002},{"panel":"c","band":"Vis","series":"o","nm":417.1,"LD":-0.0015},{"panel":"c","band":"Vis","series":"o","nm":419,"LD":-0.0012},{"panel":"c","band":"Vis","series":"o","nm":421,"LD":-0.0011},{"panel":"c","band":"Vis","series":"o","nm":423,"LD":-0.0013},{"panel":"c","band":"Vis","series":"o","nm":424.9,"LD":-0.0015},{"panel":"c","band":"Vis","series":"o","nm":426.5,"LD":-0.0016},{"panel":"c","band":"Vis","series":"o","nm":427.8,"LD":-0.0018},{"panel":"c","band":"Vis","series":"o","nm":428.8,"LD":-0.001},{"panel":"c","band":"Vis","series":"o","nm":429.7,"LD":0},
{"panel":"c","band":"Vis","series":"p","nm":380.4,"LD":-0.0194},{"panel":"c","band":"Vis","series":"p","nm":381.2,"LD":-0.0174},{"panel":"c","band":"Vis","series":"p","nm":382,"LD":-0.0186},{"panel":"c","band":"Vis","series":"p","nm":382.9,"LD":-0.0204},{"panel":"c","band":"Vis","series":"p","nm":383.6,"LD":-0.019},{"panel":"c","band":"Vis","series":"p","nm":384.2,"LD":-0.0174},{"panel":"c","band":"Vis","series":"p","nm":385,"LD":-0.019},{"panel":"c","band":"Vis","series":"p","nm":385.8,"LD":-0.0202},{"panel":"c","band":"Vis","series":"p","nm":387,"LD":-0.0198},{"panel":"c","band":"Vis","series":"p","nm":388.1,"LD":-0.0193},{"panel":"c","band":"Vis","series":"p","nm":389.3,"LD":-0.018},{"panel":"c","band":"Vis","series":"p","nm":390.5,"LD":-0.0167},{"panel":"c","band":"Vis","series":"p","nm":391.2,"LD":-0.0176},{"panel":"c","band":"Vis","series":"p","nm":392,"LD":-0.0182},{"panel":"c","band":"Vis","series":"p","nm":393,"LD":-0.0168},{"panel":"c","band":"Vis","series":"p","nm":393.9,"LD":-0.0156},{"panel":"c","band":"Vis","series":"p","nm":394.9,"LD":-0.0168},{"panel":"c","band":"Vis","series":"p","nm":395.9,"LD":-0.0178},{"panel":"c","band":"Vis","series":"p","nm":396.8,"LD":-0.0166},{"panel":"c","band":"Vis","series":"p","nm":397.8,"LD":-0.016},{"panel":"c","band":"Vis","series":"p","nm":398.8,"LD":-0.0166},{"panel":"c","band":"Vis","series":"p","nm":399.7,"LD":-0.0167},{"panel":"c","band":"Vis","series":"p","nm":400.8,"LD":-0.0162},{"panel":"c","band":"Vis","series":"p","nm":402,"LD":-0.0161},{"panel":"c","band":"Vis","series":"p","nm":403.3,"LD":-0.0169},{"panel":"c","band":"Vis","series":"p","nm":404.6,"LD":-0.0167},{"panel":"c","band":"Vis","series":"p","nm":406,"LD":-0.0161},{"panel":"c","band":"Vis","series":"p","nm":407.5,"LD":-0.0158},{"panel":"c","band":"Vis","series":"p","nm":409.4,"LD":-0.0159},{"panel":"c","band":"Vis","series":"p","nm":411.4,"LD":-0.0156},{"panel":"c","band":"Vis","series":"p","nm":413.3,"LD":-0.0157},{"panel":"c","band":"Vis","series":"p","nm":415.3,"LD":-0.0154},{"panel":"c","band":"Vis","series":"p","nm":416.5,"LD":-0.0157},{"panel":"c","band":"Vis","series":"p","nm":418.2,"LD":-0.0161},{"panel":"c","band":"Vis","series":"p","nm":419.5,"LD":-0.0157},{"panel":"c","band":"Vis","series":"p","nm":420.5,"LD":-0.0153},{"panel":"c","band":"Vis","series":"p","nm":422,"LD":-0.015},{"panel":"c","band":"Vis","series":"p","nm":424,"LD":-0.0151},{"panel":"c","band":"Vis","series":"p","nm":425.9,"LD":-0.015},{"panel":"c","band":"Vis","series":"p","nm":427.5,"LD":-0.0145},{"panel":"c","band":"Vis","series":"p","nm":428.5,"LD":-0.0142},{"panel":"c","band":"Vis","series":"p","nm":429.7,"LD":-0.0136},
{"panel":"c","band":"Vis","series":"m","nm":380.8,"LD":-0.016},{"panel":"c","band":"Vis","series":"m","nm":381.1,"LD":-0.013},{"panel":"c","band":"Vis","series":"m","nm":381.4,"LD":-0.0123},{"panel":"c","band":"Vis","series":"m","nm":382.3,"LD":-0.0138},{"panel":"c","band":"Vis","series":"m","nm":382.8,"LD":-0.0125},{"panel":"c","band":"Vis","series":"m","nm":383.3,"LD":-0.0116},{"panel":"c","band":"Vis","series":"m","nm":383.8,"LD":-0.0105},{"panel":"c","band":"Vis","series":"m","nm":384.2,"LD":-0.0094},{"panel":"c","band":"Vis","series":"m","nm":385,"LD":-0.011},{"panel":"c","band":"Vis","series":"m","nm":385.8,"LD":-0.013},{"panel":"c","band":"Vis","series":"m","nm":386.5,"LD":-0.0142},{"panel":"c","band":"Vis","series":"m","nm":387.2,"LD":-0.0149},{"panel":"c","band":"Vis","series":"m","nm":388.1,"LD":-0.014},{"panel":"c","band":"Vis","series":"m","nm":389.1,"LD":-0.0134},{"panel":"c","band":"Vis","series":"m","nm":390,"LD":-0.0142},{"panel":"c","band":"Vis","series":"m","nm":391,"LD":-0.0149},{"panel":"c","band":"Vis","series":"m","nm":392,"LD":-0.0138},{"panel":"c","band":"Vis","series":"m","nm":393,"LD":-0.0127},{"panel":"c","band":"Vis","series":"m","nm":394,"LD":-0.014},{"panel":"c","band":"Vis","series":"m","nm":394.9,"LD":-0.0152},{"panel":"c","band":"Vis","series":"m","nm":395.8,"LD":-0.0147},{"panel":"c","band":"Vis","series":"m","nm":396.8,"LD":-0.0141},{"panel":"c","band":"Vis","series":"m","nm":397.8,"LD":-0.0152},{"panel":"c","band":"Vis","series":"m","nm":398.8,"LD":-0.0163},{"panel":"c","band":"Vis","series":"m","nm":400.2,"LD":-0.0157},{"panel":"c","band":"Vis","series":"m","nm":401.7,"LD":-0.0149},{"panel":"c","band":"Vis","series":"m","nm":402.8,"LD":-0.014},{"panel":"c","band":"Vis","series":"m","nm":404,"LD":-0.0134},{"panel":"c","band":"Vis","series":"m","nm":404.8,"LD":-0.0142},{"panel":"c","band":"Vis","series":"m","nm":405.6,"LD":-0.0152},{"panel":"c","band":"Vis","series":"m","nm":406.5,"LD":-0.0162},{"panel":"c","band":"Vis","series":"m","nm":407.5,"LD":-0.0171},{"panel":"c","band":"Vis","series":"m","nm":409,"LD":-0.0178},{"panel":"c","band":"Vis","series":"m","nm":410.4,"LD":-0.0185},{"panel":"c","band":"Vis","series":"m","nm":412.3,"LD":-0.0192},{"panel":"c","band":"Vis","series":"m","nm":414.3,"LD":-0.0198},{"panel":"c","band":"Vis","series":"m","nm":416.2,"LD":-0.0202},{"panel":"c","band":"Vis","series":"m","nm":418.2,"LD":-0.0205},{"panel":"c","band":"Vis","series":"m","nm":419.5,"LD":-0.0209},{"panel":"c","band":"Vis","series":"m","nm":420.7,"LD":-0.0211},{"panel":"c","band":"Vis","series":"m","nm":421.8,"LD":-0.019},{"panel":"c","band":"Vis","series":"m","nm":423,"LD":-0.0171},{"panel":"c","band":"Vis","series":"m","nm":424.4,"LD":-0.015},{"panel":"c","band":"Vis","series":"m","nm":425.9,"LD":-0.013},{"panel":"c","band":"Vis","series":"m","nm":427.8,"LD":-0.011},{"panel":"c","band":"Vis","series":"m","nm":429.7,"LD":-0.009}
],
"labels":[
{"panel":"a","text":"o","nm":399.3,"LD":-0.081},{"panel":"a","text":"p","nm":398.8,"LD":-0.216},{"panel":"a","text":"m","nm":399.7,"LD":-0.336},{"panel":"a","text":"DNA","nm":235,"LD":-0.322},{"panel":"a","text":"a","nm":441.7,"LD":-0.04},
{"panel":"b","text":"o","nm":405.6,"LD":-0.0036},{"panel":"b","text":"p","nm":414.2,"LD":-0.0176},{"panel":"b","text":"m","nm":405.6,"LD":-0.0279},{"panel":"b","text":"AT","nm":237.7,"LD":-0.023},{"panel":"b","text":"b","nm":442.3,"LD":-0.0024},
{"panel":"c","text":"o","nm":293,"LD":-0.0018},{"panel":"c","text":"m","nm":300.2,"LD":-0.0072},{"panel":"c","text":"p","nm":223.4,"LD":-0.0055},{"panel":"c","text":"o","nm":422.5,"LD":-0.0041},{"panel":"c","text":"p","nm":412.9,"LD":-0.0126},{"panel":"c","text":"m","nm":432.6,"LD":-0.0207},{"panel":"c","text":"GC","nm":242.2,"LD":-0.0172},{"panel":"c","text":"c","nm":443.2,"LD":-0.0004}
],
"leaders":[
{"panel":"a","nm":399.3,"LD":-0.185,"nm2":399.3,"LD2":-0.207},{"panel":"a","nm":403.6,"LD":-0.335,"nm2":407.5,"LD2":-0.335},{"panel":"a","nm":240.2,"LD":-0.309,"nm2":253.8,"LD2":-0.276},
{"panel":"b","nm":408.4,"LD":-0.0036,"nm2":414.2,"LD2":-0.0035},{"panel":"b","nm":412.6,"LD":-0.0148,"nm2":412.6,"LD2":-0.0165},{"panel":"b","nm":408.4,"LD":-0.0276,"nm2":412.9,"LD2":-0.0276},{"panel":"b","nm":241.2,"LD":-0.0214,"nm2":256.3,"LD2":-0.0168},
{"panel":"c","nm":281.8,"LD":-0.0033,"nm2":291.5,"LD2":-0.0021},{"panel":"c","nm":288.6,"LD":-0.006,"nm2":297.3,"LD2":-0.0066},{"panel":"c","nm":224.7,"LD":-0.006,"nm2":244.1,"LD2":-0.0079},{"panel":"c","nm":246,"LD":-0.0161,"nm2":257.6,"LD2":-0.0138},{"panel":"c","nm":413.3,"LD":-0.0026,"nm2":420,"LD2":-0.0036},{"panel":"c","nm":414.2,"LD":-0.0132,"nm2":416.7,"LD2":-0.0153},{"panel":"c","nm":420.7,"LD":-0.0205,"nm2":428.7,"LD2":-0.0207}
]
},
"vconcat":[
{"width":502,"height":249,
"resolve":{"axis":{"x":"independent","y":"independent"}},
"layer":[
{"data":{"name":"curves"},"transform":[{"filter":"datum.panel==='a' && (datum.series==='o'||datum.series==='p'||datum.series==='m')"}],
"mark":{"type":"line","color":"#000","strokeWidth":1.1},
"encoding":{
"x":{"field":"nm","type":"quantitative","scale":{"domain":[200,450],"nice":false,"zero":false},"axis":{"orient":"bottom","values":[200,250,300,350,400,450],"tickSize":-6,"domain":false,"grid":false,"labels":false,"title":null}},
"y":{"field":"LD","type":"quantitative","scale":{"domain":[-0.425,0],"nice":false,"zero":false},"axis":{"orient":"left","values":[0,-0.1,-0.2,-0.3,-0.4],"tickSize":-6,"domain":false,"grid":false,"labelFontSize":17,"labelFontWeight":"bold","labelFlush":false,"labelOverlap":false,"labelPadding":4,"labelExpr":"datum.value == 0 ? '0.0' : '-' + format(-datum.value, '.1f')","title":null}},
"detail":{"field":"band"},
"strokeDash":{"field":"series","type":"nominal","scale":{"domain":["o","p","m"],"range":[[4,3],[1,0],[1.2,2.2]]},"legend":null}}},
{"data":{"name":"curves"},"transform":[{"filter":"datum.panel==='a' && datum.series==='DNA'"}],
"mark":{"type":"line","color":"#000","strokeWidth":2.2},
"encoding":{
"x":{"field":"nm","type":"quantitative","axis":{"orient":"bottom","values":[210,220,230,240,260,270,280,290,310,320,330,340,360,370,380,390,410,420,430,440],"tickSize":-3,"domain":false,"grid":false,"labels":false,"title":null}},
"y":{"field":"LD","type":"quantitative","axis":{"orient":"left","values":[-0.05,-0.15,-0.25,-0.35],"tickSize":-3,"domain":false,"grid":false,"labels":false,"title":null}}}},
{"data":{"name":"leaders"},"transform":[{"filter":"datum.panel==='a'"}],
"mark":{"type":"rule","color":"#000","strokeWidth":0.8},
"encoding":{"x":{"field":"nm","type":"quantitative","axis":null},"y":{"field":"LD","type":"quantitative","axis":null},"x2":{"field":"nm2"},"y2":{"field":"LD2"}}},
{"data":{"name":"labels"},"transform":[{"filter":"datum.panel==='a' && (datum.text==='o'||datum.text==='p'||datum.text==='m')"}],
"mark":{"type":"text","fontSize":14,"fontStyle":"italic","color":"#000"},
"encoding":{"x":{"field":"nm","type":"quantitative","axis":null},"y":{"field":"LD","type":"quantitative","axis":null},"text":{"field":"text"}}},
{"data":{"name":"labels"},"transform":[{"filter":"datum.panel==='a' && datum.text==='DNA'"}],
"mark":{"type":"text","fontSize":13,"color":"#000"},
"encoding":{"x":{"field":"nm","type":"quantitative","axis":null},"y":{"field":"LD","type":"quantitative","axis":null},"text":{"field":"text"}}},
{"data":{"name":"labels"},"transform":[{"filter":"datum.panel==='a' && datum.text==='a'"}],
"mark":{"type":"text","fontSize":24,"fontWeight":"bold","color":"#000"},
"encoding":{"x":{"field":"nm","type":"quantitative","axis":null},"y":{"field":"LD","type":"quantitative","axis":null},"text":{"field":"text"}}}
]},
{"width":502,"height":249,
"resolve":{"axis":{"x":"independent","y":"independent"}},
"layer":[
{"data":{"name":"curves"},"transform":[{"filter":"datum.panel==='b' && (datum.series==='o'||datum.series==='p'||datum.series==='m')"}],
"mark":{"type":"line","color":"#000","strokeWidth":1.1},
"encoding":{
"x":{"field":"nm","type":"quantitative","scale":{"domain":[200,450],"nice":false,"zero":false},"axis":{"orient":"bottom","values":[200,250,300,350,400,450],"tickSize":-6,"domain":false,"grid":false,"labels":false,"title":null}},
"y":{"field":"LD","type":"quantitative","scale":{"domain":[-0.0394,0.0021],"nice":false,"zero":false},"axis":{"orient":"left","values":[0,-0.01,-0.02,-0.03],"tickSize":-6,"domain":false,"grid":false,"labelFontSize":17,"labelFontWeight":"bold","labelFlush":false,"labelOverlap":false,"labelPadding":4,"labelExpr":"datum.value == 0 ? '0.00' : '-' + format(-datum.value, '.2f')","title":"LDʳ","titleFontSize":24,"titleFontWeight":"bold","titlePadding":24}},
"detail":{"field":"band"},
"strokeDash":{"field":"series","type":"nominal","scale":{"domain":["o","p","m"],"range":[[4,3],[1,0],[1.2,2.2]]},"legend":null}}},
{"data":{"name":"curves"},"transform":[{"filter":"datum.panel==='b' && datum.series==='AT'"}],
"mark":{"type":"line","color":"#000","strokeWidth":2.2},
"encoding":{
"x":{"field":"nm","type":"quantitative","axis":{"orient":"bottom","values":[210,220,230,240,260,270,280,290,310,320,330,340,360,370,380,390,410,420,430,440],"tickSize":-3,"domain":false,"grid":false,"labels":false,"title":null}},
"y":{"field":"LD","type":"quantitative","axis":{"orient":"left","values":[-0.005,-0.015,-0.025,-0.035],"tickSize":-3,"domain":false,"grid":false,"labels":false,"title":null}}}},
{"data":{"name":"leaders"},"transform":[{"filter":"datum.panel==='b'"}],
"mark":{"type":"rule","color":"#000","strokeWidth":0.8},
"encoding":{"x":{"field":"nm","type":"quantitative","axis":{"orient":"top","values":[200,250,300,350,400,450],"tickSize":-6,"domain":false,"grid":false,"labels":false,"title":null}},"y":{"field":"LD","type":"quantitative","axis":null},"x2":{"field":"nm2"},"y2":{"field":"LD2"}}},
{"data":{"name":"labels"},"transform":[{"filter":"datum.panel==='b' && (datum.text==='o'||datum.text==='p'||datum.text==='m')"}],
"mark":{"type":"text","fontSize":14,"fontStyle":"italic","color":"#000"},
"encoding":{"x":{"field":"nm","type":"quantitative","axis":{"orient":"top","values":[210,220,230,240,260,270,280,290,310,320,330,340,360,370,380,390,410,420,430,440],"tickSize":-3,"domain":false,"grid":false,"labels":false,"title":null}},"y":{"field":"LD","type":"quantitative","axis":null},"text":{"field":"text"}}},
{"data":{"name":"labels"},"transform":[{"filter":"datum.panel==='b' && datum.text==='AT'"}],
"mark":{"type":"text","fontSize":13,"color":"#000"},
"encoding":{"x":{"field":"nm","type":"quantitative","axis":null},"y":{"field":"LD","type":"quantitative","axis":null},"text":{"field":"text"}}},
{"data":{"name":"labels"},"transform":[{"filter":"datum.panel==='b' && datum.text==='b'"}],
"mark":{"type":"text","fontSize":24,"fontWeight":"bold","color":"#000"},
"encoding":{"x":{"field":"nm","type":"quantitative","axis":null},"y":{"field":"LD","type":"quantitative","axis":null},"text":{"field":"text"}}}
]},
{"width":502,"height":249,
"resolve":{"axis":{"x":"independent","y":"independent"}},
"layer":[
{"data":{"name":"curves"},"transform":[{"filter":"datum.panel==='c' && (datum.series==='o'||datum.series==='p'||datum.series==='m')"}],
"mark":{"type":"line","color":"#000","strokeWidth":1.1},
"encoding":{
"x":{"field":"nm","type":"quantitative","scale":{"domain":[200,450],"nice":false,"zero":false},"axis":{"orient":"bottom","values":[200,250,300,350,400,450],"tickSize":-6,"domain":false,"grid":false,"labelFontSize":17,"labelFontWeight":"bold","labelFlush":false,"labelOverlap":false,"labelPadding":9,"format":"d","title":"Wavelength(nm)","titleFontSize":21,"titleFontWeight":"bold","titlePadding":10}},
"y":{"field":"LD","type":"quantitative","scale":{"domain":[-0.0249,0.00245],"nice":false,"zero":false},"axis":{"orient":"left","values":[0,-0.01,-0.02],"tickSize":-6,"domain":false,"grid":false,"labelFontSize":17,"labelFontWeight":"bold","labelFlush":false,"labelOverlap":false,"labelPadding":4,"labelExpr":"datum.value == 0 ? '0.00' : '-' + format(-datum.value, '.2f')","title":null}},
"detail":{"field":"band"},
"strokeDash":{"field":"series","type":"nominal","scale":{"domain":["o","p","m"],"range":[[4,3],[1,0],[1.2,2.2]]},"legend":null}}},
{"data":{"name":"curves"},"transform":[{"filter":"datum.panel==='c' && datum.series==='GC'"}],
"mark":{"type":"line","color":"#000","strokeWidth":2.2},
"encoding":{
"x":{"field":"nm","type":"quantitative","axis":{"orient":"bottom","values":[210,220,230,240,260,270,280,290,310,320,330,340,360,370,380,390,410,420,430,440],"tickSize":-3,"domain":false,"grid":false,"labels":false,"title":null}},
"y":{"field":"LD","type":"quantitative","axis":{"orient":"left","values":[0.002,-0.002,-0.004,-0.006,-0.008,-0.012,-0.014,-0.016,-0.018,-0.022,-0.024],"tickSize":-3,"domain":false,"grid":false,"labels":false,"title":null}}}},
{"data":{"name":"leaders"},"transform":[{"filter":"datum.panel==='c'"}],
"mark":{"type":"rule","color":"#000","strokeWidth":0.8},
"encoding":{"x":{"field":"nm","type":"quantitative","axis":{"orient":"top","values":[200,250,300,350,400,450],"tickSize":-6,"domain":false,"grid":false,"labels":false,"title":null}},"y":{"field":"LD","type":"quantitative","axis":null},"x2":{"field":"nm2"},"y2":{"field":"LD2"}}},
{"data":{"name":"labels"},"transform":[{"filter":"datum.panel==='c' && (datum.text==='o'||datum.text==='p'||datum.text==='m')"}],
"mark":{"type":"text","fontSize":14,"fontStyle":"italic","color":"#000"},
"encoding":{"x":{"field":"nm","type":"quantitative","axis":{"orient":"top","values":[210,220,230,240,260,270,280,290,310,320,330,340,360,370,380,390,410,420,430,440],"tickSize":-3,"domain":false,"grid":false,"labels":false,"title":null}},"y":{"field":"LD","type":"quantitative","axis":null},"text":{"field":"text"}}},
{"data":{"name":"labels"},"transform":[{"filter":"datum.panel==='c' && datum.text==='GC'"}],
"mark":{"type":"text","fontSize":13,"color":"#000"},
"encoding":{"x":{"field":"nm","type":"quantitative","axis":null},"y":{"field":"LD","type":"quantitative","axis":null},"text":{"field":"text"}}},
{"data":{"name":"labels"},"transform":[{"filter":"datum.panel==='c' && datum.text==='c'"}],
"mark":{"type":"text","fontSize":24,"fontWeight":"bold","color":"#000"},
"encoding":{"x":{"field":"nm","type":"quantitative","axis":null},"y":{"field":"LD","type":"quantitative","axis":null},"text":{"field":"text"}}}
]}
]
}
